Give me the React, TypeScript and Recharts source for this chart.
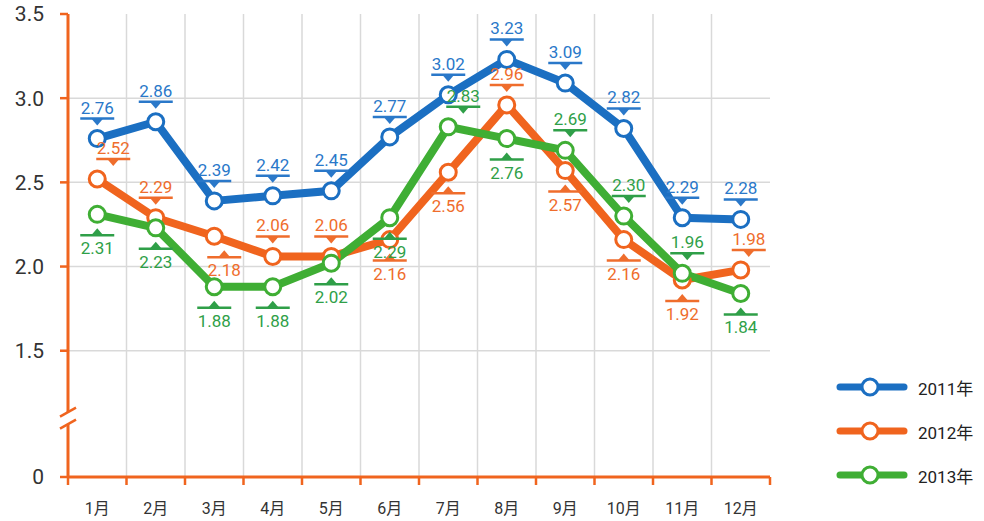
import React from "react";
import { LineChart, Line, XAxis, YAxis, CartesianGrid, LabelList, ReferenceDot } from "recharts";

const months = ["1月", "2月", "3月", "4月", "5月", "6月", "7月", "8月", "9月", "10月", "11月", "12月"];
const values2011 = [2.76, 2.86, 2.39, 2.42, 2.45, 2.77, 3.02, 3.23, 3.09, 2.82, 2.29, 2.28];
const values2012 = [2.52, 2.29, 2.18, 2.06, 2.06, 2.16, 2.56, 2.96, 2.57, 2.16, 1.92, 1.98];
const values2013 = [2.31, 2.23, 1.88, 1.88, 2.02, 2.29, 2.83, 2.76, 2.69, 2.30, 1.96, 1.84];
const yTicks = [1.5, 2.0, 2.5, 3.0, 3.5];

// which side of the point each value label sits on (u = above, d = below)
const side2011 = "uuuuuuuuuuuu".split("");
const side2012 = "uuduuddudddu".split("");
const side2013 = "dddddduduuud".split("");

// the axis is broken between 0 and 1.5; this is where "0" is drawn
const AXIS_FLOOR = 0.75;
const BREAK_AT = 1.1;

const AXIS = "#f0641e";
const FONT = "Roboto, 'Noto Sans CJK SC', sans-serif";

const series = [
  { key: "y2012", name: "2012年", line: "#f0641e", text: "#ef6d2c", sides: side2012, nudge: [16, 0, 10, 0, 0, 0, 0, 0, 0, 0, 0, 8] },
  { key: "y2013", name: "2013年", line: "#3fae34", text: "#2f9f48", sides: side2013, nudge: [0, 0, 0, 0, 0, 0, 15, 0, 5, 5, 5, 0] },
  { key: "y2011", name: "2011年", line: "#1b6fc2", text: "#2a78c9", sides: side2011, nudge: [0, 0, 0, 0, 0, 0, 0, 0, 0, 0, 0, 0] },
];
const legendOrder = ["y2011", "y2012", "y2013"];

const data = months.map((name, i) => ({
  m: i + 1,
  name,
  y2011: values2011[i],
  y2012: values2012[i],
  y2013: values2013[i],
}));

const makeLabel = (color: string, sides: string[], nudge: number[]) => (props: any) => {
  const { x, y, value, index } = props;
  if (x == null || y == null) return null;
  const up = sides[index] !== "d";
  const cx = Number(x) + (nudge[index] || 0);
  const cy = Number(y);
  const barY = up ? cy - 20 : cy + 21;
  const tip = up ? barY + 7 : barY - 7;
  const textY = up ? cy - 25 : cy + 40;
  return (
    <g>
      <line x1={cx - 17} x2={cx + 17} y1={barY} y2={barY} stroke={color} strokeWidth={2.5} />
      <polygon points={`${cx - 6},${barY} ${cx + 6},${barY} ${cx},${tip}`} fill={color} />
      <text x={cx} y={textY} textAnchor="middle" fontSize={17} fontFamily={FONT} fill={color}>
        {Number(value).toFixed(2)}
      </text>
    </g>
  );
};

const AxisBreak = (props: any) => {
  const { cx, cy } = props;
  return (
    <g>
      <rect x={cx - 4} y={cy - 6} width={8} height={12} fill="#fff" />
      <line x1={cx - 8} y1={cy - 1.5} x2={cx + 8} y2={cy - 10.5} stroke={AXIS} strokeWidth={2.5} />
      <line x1={cx - 8} y1={cy + 10.5} x2={cx + 8} y2={cy + 1.5} stroke={AXIS} strokeWidth={2.5} />
    </g>
  );
};

export default function App() {
  const bounds = months.map((_, i) => i + 0.5).concat(months.length + 0.5);
  const inner = bounds.slice(1, -1);
  return (
    <div style={{ position: "absolute", left: 0, top: 0, width: 984, height: 521, background: "#fff" }}>
      <LineChart width={984} height={521} data={data} margin={{ top: 14, right: 214, bottom: 0, left: 0 }}>
        <CartesianGrid stroke="#d9d9d9" strokeWidth={1.5} horizontalValues={[1.5, 2, 2.5, 3]} verticalValues={inner} />
        <XAxis
          dataKey="m"
          type="number"
          domain={[0.5, months.length + 0.5]}
          ticks={bounds}
          tickFormatter={() => ""}
          height={8}
          tickSize={8}
          axisLine={{ stroke: AXIS, strokeWidth: 3 }}
          tickLine={{ stroke: AXIS, strokeWidth: 2.5 }}
        />
        <XAxis
          xAxisId="lbl"
          dataKey="m"
          type="number"
          domain={[0.5, months.length + 0.5]}
          ticks={data.map((d) => d.m)}
          tickFormatter={(v) => months[Number(v) - 1] ?? ""}
          height={36}
          tickSize={0}
          tickMargin={18}
          axisLine={false}
          tickLine={false}
          tick={{ fontSize: 16, fill: "#333", fontFamily: FONT }}
        />
        <YAxis
          type="number"
          domain={[AXIS_FLOOR, 3.5]}
          ticks={[AXIS_FLOOR, ...yTicks]}
          tickFormatter={(v) => (Number(v) === AXIS_FLOOR ? "0" : Number(v).toFixed(1))}
          width={68}
          tickSize={8}
          tickMargin={16}
          axisLine={{ stroke: AXIS, strokeWidth: 3 }}
          tickLine={{ stroke: AXIS, strokeWidth: 2.5 }}
          tick={{ fontSize: 21, fill: "#333", fontFamily: FONT }}
        />
        {series.map((s) => (
          <Line
            key={s.key}
            dataKey={s.key}
            name={s.name}
            stroke={s.line}
            strokeWidth={8}
            dot={{ r: 8, fill: "#fff", stroke: s.line, strokeWidth: 3 }}
            isAnimationActive={false}
          >
            <LabelList dataKey={s.key} content={makeLabel(s.text, s.sides, s.nudge)} />
          </Line>
        ))}
        <ReferenceDot x={0.5} y={BREAK_AT} r={0} ifOverflow="visible" shape={AxisBreak} />
      </LineChart>
      <div style={{ position: "absolute", left: 832, top: 365, fontFamily: FONT, fontSize: 17, color: "#222" }}>
        {legendOrder.map((k) => {
          const s = series.find((x) => x.key === k)!;
          return (
            <div key={k} style={{ display: "flex", alignItems: "center", height: 44 }}>
              <svg width={82} height={24}>
                <line x1={8} x2={72} y1={12} y2={12} stroke={s.line} strokeWidth={7} strokeLinecap="round" />
                <circle cx={38} cy={12} r={8} fill="#fff" stroke={s.line} strokeWidth={3} />
              </svg>
              <span style={{ marginLeft: 4 }}>{s.name}</span>
            </div>
          );
        })}
      </div>
    </div>
  );
}
